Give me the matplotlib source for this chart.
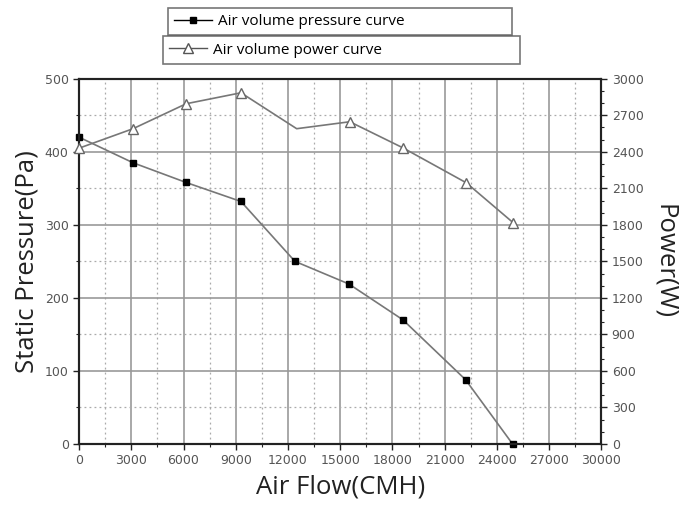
import numpy as np
import matplotlib
matplotlib.use("Agg")
import matplotlib.pyplot as plt
from matplotlib.ticker import MultipleLocator

# values
flow_p = [0, 3100, 6150, 9300, 12400, 15500, 18600, 22200, 24900]
pressure = [420, 385, 358, 332, 250, 219, 170, 88, 0]

flow_w = [0, 3100, 6150, 9300, 12500, 15550, 18600, 22250, 24950]
power = [2430, 2590, 2795, 2885, 2590, 2647, 2433, 2145, 1816]
power_marks = [0, 1, 2, 3, 5, 6, 7, 8]  # no marker on the corner at 12500

line_col = "#777777"
tick_col = "#555555"

fig = plt.figure(figsize=(7, 5.15), dpi=100)
ax = fig.add_axes([0.113, 0.138, 0.746, 0.709])
ax2 = ax.twinx()

ax.set_xlim(0, 30000)
ax.set_ylim(0, 500)
ax2.set_ylim(0, 3000)

ax.xaxis.set_major_locator(MultipleLocator(3000))
ax.xaxis.set_minor_locator(MultipleLocator(1500))
ax.yaxis.set_major_locator(MultipleLocator(100))
ax.yaxis.set_minor_locator(MultipleLocator(50))
ax2.yaxis.set_major_locator(MultipleLocator(300))
ax2.yaxis.set_minor_locator(MultipleLocator(100))

ax.grid(which="major", color="#999999", linewidth=1.2, linestyle="-")
ax.grid(which="minor", color="#aaaaaa", linewidth=0.9, linestyle=(0, (1.5, 2.5)))
ax.set_axisbelow(True)

for a in (ax, ax2):
    for s in a.spines.values():
        s.set_linewidth(1.5)
        s.set_color("#222222")
    a.tick_params(which="major", length=4, width=1.0, colors="#222222",
                  labelcolor=tick_col, labelsize=9)
    a.tick_params(which="minor", length=2.5, width=0.8, colors="#222222")

ax.plot(flow_p, pressure, color=line_col, linewidth=1.2, marker="s",
        markersize=5, markerfacecolor="black", markeredgecolor="black",
        clip_on=False, zorder=5)
ax2.plot(flow_w, power, color=line_col, linewidth=1.2, marker="^",
         markersize=7, markerfacecolor="white", markeredgecolor="#666666",
         markevery=power_marks, clip_on=False, zorder=5)

lab_font = {"family": "Open Sans", "size": 18.5, "color": "#222222"}
ax.set_xlabel("Air Flow(CMH)", fontdict=lab_font, labelpad=5)
ax.set_ylabel("Static Pressure(Pa)", fontdict=lab_font, labelpad=4)
ax2.set_ylabel("Power(W)", fontdict=lab_font, rotation=-90, labelpad=24)

h1 = plt.Line2D([], [], color="black", linewidth=1.0, marker="s",
                markersize=5, markerfacecolor="black")
h2 = plt.Line2D([], [], color="#555555", linewidth=1.0, marker="^",
                markersize=7, markerfacecolor="white", markeredgecolor="#555555")

leg_kw = dict(loc="center left", mode="expand", frameon=True, fancybox=False,
              borderaxespad=0, handlelength=2.5, handletextpad=0.4,
              prop={"family": "Open Sans", "size": 11})
leg1 = fig.legend([h1], ["Air volume pressure curve"],
                  bbox_to_anchor=(168 / 700, 1 - 33 / 515, 344 / 700, 23 / 515),
                  **leg_kw)
leg2 = fig.legend([h2], ["Air volume power curve"],
                  bbox_to_anchor=(163 / 700, 1 - 62 / 515, 357 / 700, 24 / 515),
                  **leg_kw)
for lg in (leg1, leg2):
    lg.get_frame().set_edgecolor("#555555")
    lg.get_frame().set_linewidth(1.2)

fig.savefig("out.png", dpi=100)
